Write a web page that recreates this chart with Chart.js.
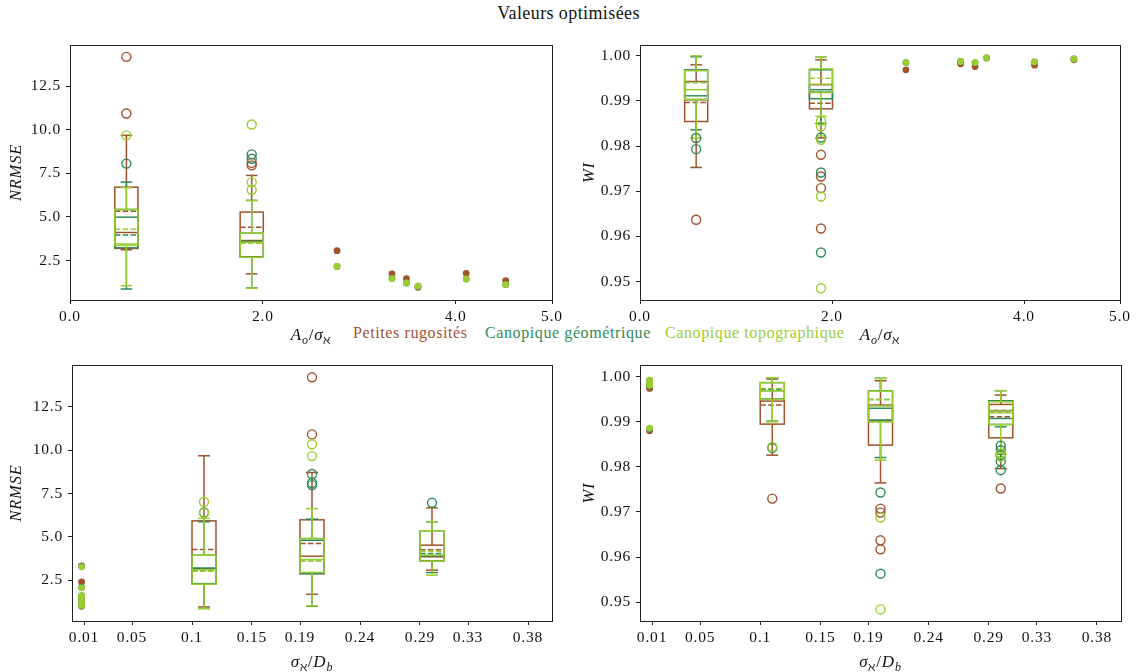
<!DOCTYPE html>
<html>
<head>
<meta charset="UTF-8">
<title>Valeurs optimisées</title>
<script src="https://cdn.jsdelivr.net/npm/chart.js"></script>
<style>
  body { margin: 0; background: #fff; width: 1137px; height: 672px; position: relative; overflow: hidden;
         font-family: "Liberation Serif", "DejaVu Serif", serif; color: #111; }
  .panel { position: absolute; }
  #title { position: absolute; top: 3px; left: 0; width: 1137px; text-align: center; font-size: 18px; letter-spacing: 0.4px; }
  .leg { position: absolute; top: 324px; font-size: 16px; letter-spacing: 0.6px; white-space: nowrap; }
</style>
</head>
<body>
<div id="title">Valeurs optimisées</div>
<span class="leg" style="left:353px;color:#a0522d">Petites rugosités</span>
<span class="leg" style="left:485px;color:#2e8b57">Canopique géométrique</span>
<span class="leg" style="left:665px;color:#9acd32">Canopique topographique</span>

<div class="panel" style="left:0;top:30px"><canvas id="tl" width="568" height="320"></canvas></div>
<div class="panel" style="left:570px;top:30px"><canvas id="tr" width="567" height="320"></canvas></div>
<div class="panel" style="left:0;top:350px"><canvas id="bl" width="568" height="322"></canvas></div>
<div class="panel" style="left:570px;top:350px"><canvas id="br" width="567" height="322"></canvas></div>

<script>
// series colours
const C_RUGO = '#a0522d', C_GEO = '#2e8b57', C_TOPO = '#9acd32';

// ---- top row : x = A_o / sigma ----
const aBoxPos = [0.585, 1.885];
const aDotPos = [2.77, 3.34, 3.49, 3.61, 4.11, 4.52];
const aTicks = [0, 2, 4, 5];
const aLabels = ['0.0', '2.0', '4.0', '5.0'];

// box stats: [whisker low, q1, median, mean, q3, whisker high]
const nrmseA_rugo = [[3.12, 3.2, 4.11, 5.33, 6.71, 9.68], [1.74, 2.72, 3.65, 4.41, 5.28, 7.38]];
const nrmseA_geo  = [[0.87, 3.23, 4.99, 3.96, 5.43, 7.0], [0.93, 2.69, 3.6, 3.52, 4.09, 5.95]];
const nrmseA_topo = [[1.06, 3.38, 3.45, 4.3, 5.43, 6.68], [0.91, 2.69, 3.55, 3.5, 4.09, 5.95]];
const nrmseA_rugoOut = [[14.18, 10.93], [8.1, 7.96]];
const nrmseA_geoOut  = [[8.06], [8.59, 8.34]];
const nrmseA_topoOut = [[9.68], [10.3, 7.0, 6.56]];
const nrmseA_rugoDots = [3.07, 1.74, 1.47, 0.97, 1.77, 1.35];
const nrmseA_geoDots  = [2.16, 1.47, 1.22, 1.04, 1.45, 1.12];
const nrmseA_topoDots = [2.16, 1.47, 1.22, 1.04, 1.45, 1.12];

const wiA_rugo = [[0.97526, 0.98545, 0.9903, 0.98966, 0.99431, 0.998], [0.9818, 0.98825, 0.9919, 0.9895, 0.9936, 0.9991]];
const wiA_geo  = [[0.9836, 0.9903, 0.99114, 0.9941, 0.9969, 0.9998], [0.985, 0.9905, 0.9925, 0.992, 0.9969, 0.9997]];
const wiA_topo = [[0.98176, 0.9903, 0.9925, 0.9941, 0.9967, 1.0], [0.9866, 0.9919, 0.99372, 0.99505, 0.9971, 0.9997]];
const wiA_rugoOut = [[0.96367], [0.97807, 0.97326, 0.97068, 0.96174]];
const wiA_geoOut  = [[0.9818, 0.97932], [0.9819, 0.97415, 0.95642]];
const wiA_topoOut = [[], [0.9856, 0.98434, 0.98139, 0.96883, 0.94852]];
const wiA_rugoDots = [0.9969, 0.99823, 0.99763, 0.9995, 0.99793, 0.99911];
const wiA_geoDots  = [0.99851, 0.99874, 0.99851, 0.99956, 0.99867, 0.99933];
const wiA_topoDots = [0.99851, 0.99874, 0.99851, 0.99956, 0.99867, 0.99933];

// ---- bottom row : x = sigma / D_b ----
const bBoxPos = [0.11, 0.2, 0.3];
const bDotPos = [0.008, 0.008, 0.008, 0.008, 0.008, 0.008];
const bTicks = [0.01, 0.05, 0.1, 0.15, 0.19, 0.24, 0.29, 0.33, 0.38];
const bLabels = ['0.01', '0.05', '0.1', '0.15', '0.19', '0.24', '0.29', '0.33', '0.38'];

const nrmseB_rugo = [[0.96, 2.3, 3.17, 4.27, 5.92, 9.67], [1.69, 2.88, 3.88, 4.62, 5.98, 8.71], [3.08, 3.6, 3.85, 4.25, 4.52, 6.67]];
const nrmseB_geo  = [[0.87, 2.3, 3.2, 3.05, 3.94, 5.87], [1.0, 2.88, 4.8, 3.62, 4.9, 6.02], [2.94, 3.6, 3.9, 4.04, 5.35, 5.87]];
const nrmseB_topo = [[0.87, 2.27, 3.1, 3.02, 3.94, 6.06], [1.02, 2.95, 3.7, 3.62, 4.9, 6.63], [2.79, 3.6, 3.95, 4.17, 5.35, 5.87]];
const nrmseB_rugoOut = [[], [14.19, 10.9], []];
const nrmseB_geoOut  = [[6.4], [8.62, 8.1, 7.98], [6.96]];
const nrmseB_topoOut = [[7.02, 6.37], [10.33, 9.65], []];
const nrmseB_rugoDots = [3.33, 2.4, 1.55, 1.35, 1.2, 1.0];
const nrmseB_geoDots  = [3.3, 2.1, 1.6, 1.5, 1.3, 1.1];
const nrmseB_topoDots = [3.27, 2.06, 1.63, 1.48, 1.25, 1.05];

const wiB_rugo = [[0.98259, 0.98948, 0.9946, 0.9937, 0.995, 0.99948], [0.97644, 0.98482, 0.9902, 0.99, 0.99371, 0.9991], [0.97963, 0.98644, 0.9925, 0.99111, 0.99385, 0.99593]];
const wiB_geo  = [[0.99015, 0.995, 0.99689, 0.9972, 0.9987, 0.99978], [0.98207, 0.9904, 0.993, 0.99497, 0.99689, 0.99964], [0.98889, 0.9894, 0.99074, 0.9924, 0.99467, 0.9969]];
const wiB_topo = [[0.99, 0.99496, 0.99689, 0.99741, 0.99867, 0.99978], [0.9815, 0.99, 0.9935, 0.99497, 0.99682, 0.99964], [0.98281, 0.98941, 0.992, 0.99244, 0.99444, 0.9969]];
const wiB_rugoOut = [[0.97296], [0.97074, 0.96985, 0.9637, 0.9617], [0.97519]];
const wiB_geoOut  = [[0.9842], [0.9743, 0.9563], [0.98467, 0.9837, 0.98259, 0.98126, 0.97926]];
const wiB_topoOut = [[0.98444], [0.96874, 0.94837], [0.983, 0.9822]];
const wiB_rugoDots = [0.999, 0.9985, 0.9979, 0.9974, 0.9977, 0.988];
const wiB_geoDots  = [0.9992, 0.9989, 0.9986, 0.9983, 0.998, 0.9884];
const wiB_topoDots = [0.9993, 0.999, 0.9987, 0.9984, 0.9981, 0.9886];

const nrmseTicks = [2.5, 5, 7.5, 10, 12.5];
const wiTicks = [0.95, 0.96, 0.97, 0.98, 0.99, 1.0];

const FONT = '"Liberation Serif", "DejaVu Serif", serif';
Chart.defaults.font.family = FONT;
Chart.defaults.color = '#111';

// draws the box, whiskers, caps, median and dashed mean of every box
const boxPlugin = {
  id: 'boxes',
  beforeDraw(chart) {
    // the latex font of the original is wider than Times
    if ('letterSpacing' in chart.ctx) chart.ctx.letterSpacing = '0.8px';
  },
  beforeDatasetsDraw(chart, args, opts) {
    const xs = chart.scales.x, ys = chart.scales.y, ctx = chart.ctx;
    const line = (x1, y1, x2, y2) => { ctx.beginPath(); ctx.moveTo(x1, y1); ctx.lineTo(x2, y2); ctx.stroke(); };
    ctx.save();
    opts.series.forEach(s => {
      s.stats.forEach((st, i) => {
        const [lo, q1, med, mean, q3, hi] = st.map(v => ys.getPixelForValue(v));
        const cx = xs.getPixelForValue(opts.pos[i]);
        const hw = xs.getPixelForValue(opts.pos[i] + opts.width / 2) - cx;
        const cw = hw / 2;
        ctx.strokeStyle = s.color;
        ctx.lineWidth = 1.5;
        ctx.setLineDash([]);
        ctx.strokeRect(cx - hw, q3, 2 * hw, q1 - q3);
        line(cx, q1, cx, lo);
        line(cx, q3, cx, hi);
        line(cx - cw, lo, cx + cw, lo);
        line(cx - cw, hi, cx + cw, hi);
        line(cx - hw, med, cx + hw, med);
        ctx.setLineDash([5.5, 2.4]);
        line(cx - hw, mean, cx + hw, mean);
      });
    });
    ctx.restore();
  }
};

// full frame round the plot + x label with sub-scripts
const framePlugin = {
  id: 'frame',
  afterDraw(chart, args, opts) {
    const a = chart.chartArea, ctx = chart.ctx;
    ctx.save();
    ctx.strokeStyle = '#222';
    ctx.lineWidth = 1;
    ctx.strokeRect(Math.round(a.left) + 0.5, Math.round(a.top) + 0.5, Math.round(a.right - a.left), Math.round(a.bottom - a.top));
    // x title
    const parts = opts.parts;
    const fontOf = p => (p[1] ? 'italic ' : '') + (p[2] ? '12px ' : '17px ') + FONT;
    let w = 0;
    parts.forEach(p => { ctx.font = fontOf(p); w += ctx.measureText(p[0]).width; });
    let x = (a.left + a.right) / 2 - w / 2;
    ctx.fillStyle = '#111';
    ctx.textBaseline = 'alphabetic';
    parts.forEach(p => {
      ctx.font = fontOf(p);
      ctx.fillText(p[0], x, opts.y + (p[2] ? 4 : 0));
      x += ctx.measureText(p[0]).width;
    });
    ctx.restore();
  }
};

// [text, italic, subscript]
const titleA = [['A', true, false], ['o', true, true], ['/', false, false], ['σ', true, false], ['ℵ', false, true]];
const titleB = [['σ', true, false], ['ℵ', false, true], ['/', false, false], ['D', true, false], ['b', true, true]];

function pts(xs, ys) { return xs.map((x, i) => ({ x: x, y: ys[i] })); }
function outPts(pos, lists) {
  const out = [];
  lists.forEach((l, i) => l.forEach(v => out.push({ x: pos[i], y: v })));
  return out;
}

function makePanel(id, p) {
  const series = [
    { color: C_RUGO, stats: p.stats[0], out: p.out[0], dots: p.dots[0] },
    { color: C_GEO,  stats: p.stats[1], out: p.out[1], dots: p.dots[1] },
    { color: C_TOPO, stats: p.stats[2], out: p.out[2], dots: p.dots[2] }
  ];
  const datasets = [];
  series.forEach(s => {
    datasets.push({ data: outPts(p.boxPos, s.out), pointRadius: 4.5, borderWidth: 1.4,
                    borderColor: s.color, backgroundColor: 'rgba(0,0,0,0)', showLine: false });
    datasets.push({ data: pts(p.dotPos, s.dots), pointRadius: 3.4, borderWidth: 0,
                    backgroundColor: s.color, showLine: false });
  });
  // later series on top, like matplotlib
  datasets.forEach((d, i) => { d.order = datasets.length - i; });
  const tickGrid = { display: true, drawOnChartArea: false, drawTicks: true, tickLength: 4, color: '#222', tickColor: '#222' };
  new Chart(document.getElementById(id), {
    type: 'scatter',
    data: { datasets: datasets },
    options: {
      responsive: false,
      animation: false,
      layout: { padding: { top: 15, right: p.padRight, left: 0, bottom: 0 } },
      plugins: {
        legend: { display: false },
        tooltip: { enabled: false },
        boxes: { series: series, pos: p.boxPos, width: p.boxWidth },
        frame: { parts: p.xTitle, y: p.xTitleY }
      },
      scales: {
        x: {
          type: 'linear', min: p.xMin, max: p.xMax,
          afterBuildTicks: s => { s.ticks = p.xTicks.map(v => ({ value: v })); },
          afterFit: s => { s.height = p.xAxisH; },
          ticks: { callback: (v, i) => p.xLabels[i], autoSkip: false, maxRotation: 0, padding: 4,
                   font: { size: 15.5 }, color: '#111' },
          grid: tickGrid,
          border: { display: false }
        },
        y: {
          type: 'linear', min: p.yMin, max: p.yMax,
          afterBuildTicks: s => { s.ticks = p.yTicks.map(v => ({ value: v })); },
          afterFit: s => { s.width = p.yAxisW; },
          ticks: { callback: v => v.toFixed(p.yDec), padding: 5, font: { size: 15.5 }, color: '#111' },
          grid: tickGrid,
          border: { display: false },
          title: { display: true, text: p.yTitle, font: { size: 16.5, style: 'italic' }, color: '#111',
                   padding: { top: p.yTitlePad, bottom: 0 } }
        }
      }
    },
    plugins: [boxPlugin, framePlugin]
  });
}

makePanel('tl', {
  stats: [nrmseA_rugo, nrmseA_geo, nrmseA_topo],
  out: [nrmseA_rugoOut, nrmseA_geoOut, nrmseA_topoOut],
  dots: [nrmseA_rugoDots, nrmseA_geoDots, nrmseA_topoDots],
  boxPos: aBoxPos, dotPos: aDotPos, boxWidth: 0.24,
  xMin: 0, xMax: 5, xTicks: aTicks, xLabels: aLabels,
  yMin: 0.24, yMax: 14.86, yTicks: nrmseTicks, yDec: 1, yTitle: 'NRMSE', yTitlePad: 7,
  xTitle: titleA, xTitleY: 310, padRight: 16, xAxisH: 50, yAxisW: 70
});
makePanel('tr', {
  stats: [wiA_rugo, wiA_geo, wiA_topo],
  out: [wiA_rugoOut, wiA_geoOut, wiA_topoOut],
  dots: [wiA_rugoDots, wiA_geoDots, wiA_topoDots],
  boxPos: aBoxPos, dotPos: aDotPos, boxWidth: 0.24,
  xMin: 0, xMax: 5, xTicks: aTicks, xLabels: aLabels,
  yMin: 0.9459, yMax: 1.0024, yTicks: wiTicks, yDec: 2, yTitle: 'WI', yTitlePad: 10,
  xTitle: titleA, xTitleY: 310, padRight: 17, xAxisH: 50, yAxisW: 70
});
makePanel('bl', {
  stats: [nrmseB_rugo, nrmseB_geo, nrmseB_topo],
  out: [nrmseB_rugoOut, nrmseB_geoOut, nrmseB_topoOut],
  dots: [nrmseB_rugoDots, nrmseB_geoDots, nrmseB_topoDots],
  boxPos: bBoxPos, dotPos: bDotPos, boxWidth: 0.02,
  xMin: 0, xMax: 0.4, xTicks: bTicks, xLabels: bLabels,
  yMin: 0.15, yMax: 14.9, yTicks: nrmseTicks, yDec: 1, yTitle: 'NRMSE', yTitlePad: 7,
  xTitle: titleB, xTitleY: 317, padRight: 16, xAxisH: 51, yAxisW: 72
});
makePanel('br', {
  stats: [wiB_rugo, wiB_geo, wiB_topo],
  out: [wiB_rugoOut, wiB_geoOut, wiB_topoOut],
  dots: [wiB_rugoDots, wiB_geoDots, wiB_topoDots],
  boxPos: bBoxPos, dotPos: bDotPos, boxWidth: 0.02,
  xMin: 0, xMax: 0.4, xTicks: bTicks, xLabels: bLabels,
  yMin: 0.9458, yMax: 1.0026, yTicks: wiTicks, yDec: 2, yTitle: 'WI', yTitlePad: 10,
  xTitle: titleB, xTitleY: 317, padRight: 16, xAxisH: 51, yAxisW: 70
});
</script>
</body>
</html>
